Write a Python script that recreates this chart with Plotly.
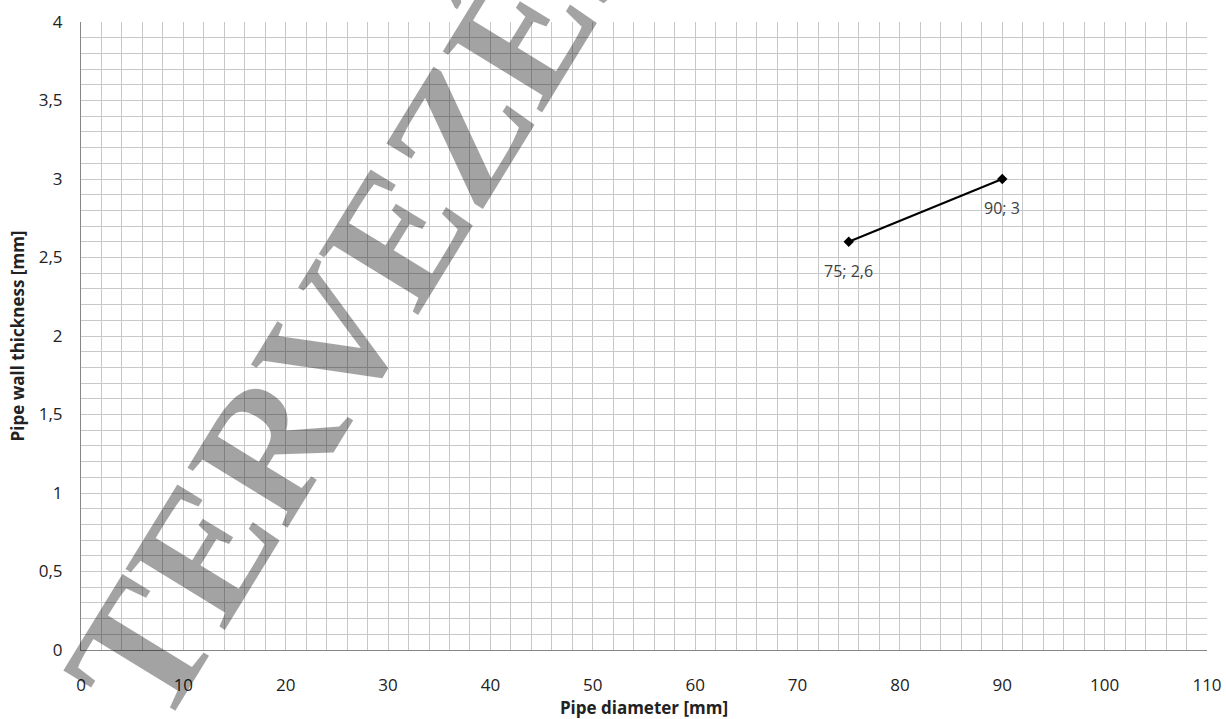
import plotly.graph_objects as go

# Data
diameter_mm = [75, 90]
wall_thickness_mm = [2.6, 3]
point_labels = ["75; 2,6", "90; 3"]
x_tick_vals = [0, 10, 20, 30, 40, 50, 60, 70, 80, 90, 100, 110]
y_tick_vals = [0, 0.5, 1, 1.5, 2, 2.5, 3, 3.5, 4]
y_tick_text = ["0", "0,5", "1", "1,5", "2", "2,5", "3", "3,5", "4"]
watermark_text = "TERVEZÉS"

FONT = "Open Sans"
GRID = "#c8c8c8"

fig = go.Figure()
fig.add_trace(go.Scatter(
    x=diameter_mm, y=wall_thickness_mm,
    mode="lines+markers",
    line=dict(color="black", width=2),
    marker=dict(symbol="diamond", size=8, color="black"),
    cliponaxis=False,
    showlegend=False,
    hoverinfo="skip",
))

annotations = [dict(
    text="<b>" + watermark_text + "</b>", xref="paper", yref="paper",
    x=0.245, y=0.557, xanchor="center", yanchor="middle",
    showarrow=False, textangle=-58.5,
    font=dict(family="Liberation Serif", size=178, color="rgba(0,0,0,0.36)"),
)]
for xv, yv, lab in zip(diameter_mm, wall_thickness_mm, point_labels):
    annotations.append(dict(
        x=xv, y=yv, xref="x", yref="y", text=lab, showarrow=False,
        yshift=-29, xanchor="center", yanchor="middle",
        font=dict(family=FONT, size=16, color="#404040"),
    ))

fig.update_layout(
    width=1226, height=719,
    margin=dict(l=81, r=19, t=22, b=69, autoexpand=False),
    paper_bgcolor="white", plot_bgcolor="white",
    separators=", ",
    font=dict(family=FONT, size=16, color="#222222"),
    showlegend=False,
    annotations=annotations,
)

fig.update_xaxes(
    range=[0, 110], tickvals=x_tick_vals, automargin=False,
    showgrid=True, gridcolor=GRID, gridwidth=1,
    minor=dict(dtick=2, showgrid=True, gridcolor=GRID, gridwidth=1),
    showline=True, linecolor="#868686", linewidth=1,
    zeroline=False,
    ticks="outside", ticklen=20, tickcolor="rgba(0,0,0,0)",
    tickfont=dict(family=FONT, size=17, color="#222222"),
    title=dict(text="<b>Pipe diameter [mm]</b>", font=dict(family=FONT, size=17, color="#222222"), standoff=6),
)
fig.update_yaxes(
    range=[0, 4], tickvals=y_tick_vals, ticktext=y_tick_text, automargin=False,
    showgrid=True, gridcolor=GRID, gridwidth=1,
    minor=dict(dtick=0.1, showgrid=True, gridcolor=GRID, gridwidth=1),
    showline=True, linecolor="#868686", linewidth=1,
    zeroline=False,
    ticks="outside", ticklen=14, tickcolor="rgba(0,0,0,0)",
    tickfont=dict(family=FONT, size=17, color="#222222"),
    title=dict(text="<b>Pipe wall thickness [mm]</b>", font=dict(family=FONT, size=17, color="#222222"), standoff=9),
)

fig.write_html(
    "out.html",
    config={"displayModeBar": False},
    post_script="document.body.style.margin='0';document.body.style.overflow='hidden';",
)
